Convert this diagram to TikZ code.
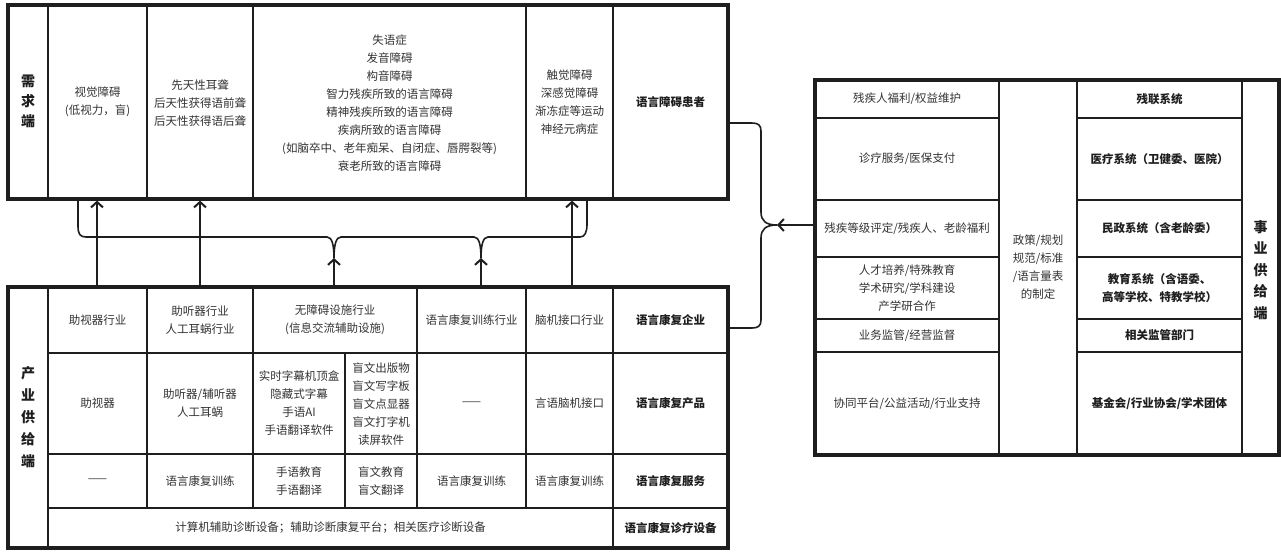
\documentclass[tikz,border=0pt]{standalone}
\usepackage{fontspec}
\setmainfont{Noto Sans CJK SC}
\usetikzlibrary{arrows.meta}
\definecolor{ink}{HTML}{1E1E1E}
\definecolor{txt}{HTML}{333333}
\begin{document}
\begin{tikzpicture}[x=1pt,y=-1pt,
  frame/.style={draw=ink, line width=3.2pt, rectangle, inner sep=0pt},
  gridline/.style={draw=ink, line width=1.8pt},
  t/.style={text=txt, font=\fontsize{11.5}{18}\selectfont, align=center, inner sep=0pt},
  h/.style={text=ink, font=\fontsize{11.5}{18.5}\selectfont\bfseries, align=center, inner sep=0pt},
  side/.style={text=ink, font=\fontsize{14}{22}\selectfont\bfseries, align=center, inner sep=0pt},
  arr/.style={draw=ink, line width=2pt, -{Straight Barb[length=5.5pt,width=12pt,line width=2pt]}},
  bus/.style={draw=ink, line width=1.6pt},
]
\useasboundingbox[fill=white] (0,0) rectangle (1281,552);

% ---------- grid lines ----------
% demand box
\foreach \x in {48,147,253,526,613} \draw[gridline] (\x,5) -- (\x,199);
% industry supply box
\draw[gridline] (48,287) -- (48,548);
\draw[gridline] (613,287) -- (613,548);
\foreach \x in {147,253,417,526} \draw[gridline] (\x,287) -- (\x,508);
\draw[gridline] (345,353) -- (345,508);
\foreach \y in {353,454,508} \draw[gridline] (48,\y) -- (728,\y);
% public supply box
\foreach \x in {999,1077,1242} \draw[gridline] (\x,80) -- (\x,455);
\foreach \y in {118,200,257,319,352} {
  \draw[gridline] (815,\y) -- (999,\y);
  \draw[gridline] (1077,\y) -- (1242,\y);
}

% ---------- frames ----------
\node[frame, minimum width=720pt, minimum height=194pt] (dem) at (368,102) {};
\node[frame, minimum width=720pt, minimum height=261pt] (sup) at (368,417.5) {};
\node[frame, minimum width=464pt, minimum height=375pt] (pub) at (1047,267.5) {};

% ---------- demand texts ----------
\node[side, font=\fontsize{14}{20}\selectfont\bfseries] (dlab) at (28,101) {需\\求\\端};
\node[t] (d1) at (97.5,102) {视觉障碍\\(低视力，盲)};
\node[t] (d2) at (200,103) {先天性耳聋\\后天性获得语前聋\\后天性获得语后聋};
\node[t] (d3) at (389.5,103) {失语症\\发音障碍\\构音障碍\\智力残疾所致的语言障碍\\精神残疾所致的语言障碍\\疾病所致的语言障碍\\(如脑卒中、老年痴呆、自闭症、唇腭裂等)\\衰老所致的语言障碍};
\node[t] (d4) at (569.5,102) {触觉障碍\\深感觉障碍\\渐冻症等运动\\神经元病症};
\node[h] (d5) at (670.5,102) {语言障碍患者};

% ---------- industry supply texts ----------
\node[side] (slab) at (28,417) {产\\业\\供\\给\\端};
\node[t] (s11) at (97.5,320) {助视器行业};
\node[t] (s12) at (200,320) {助听器行业\\人工耳蜗行业};
\node[t] (s13) at (335,320) {无障碍设施行业\\(信息交流辅助设施)};
\node[t] (s14) at (471.5,320) {语言康复训练行业};
\node[t] (s15) at (569.5,320) {脑机接口行业};
\node[h] (s16) at (670.5,320) {语言康复企业};

\node[t] (s21) at (97.5,403.5) {助视器};
\node[t] (s22) at (200,403.5) {助听器/辅听器\\人工耳蜗};
\node[t] (s23) at (299,403.5) {实时字幕机顶盒\\隐藏式字幕\\手语AI\\手语翻译软件};
\node[t] (s24) at (381,404.5) {盲文出版物\\盲文写字板\\盲文点显器\\盲文打字机\\读屏软件};
\node[t] (s25) at (471.5,403.5) {——};
\node[t] (s26) at (569.5,403.5) {言语脑机接口};
\node[h] (s27) at (670.5,403.5) {语言康复产品};

\node[t] (s31) at (97.5,481) {——};
\node[t] (s32) at (200,481) {语言康复训练};
\node[t] (s33) at (299,481) {手语教育\\手语翻译};
\node[t] (s34) at (381,481) {盲文教育\\盲文翻译};
\node[t] (s35) at (471.5,481) {语言康复训练};
\node[t] (s36) at (569.5,481) {语言康复训练};
\node[h] (s37) at (670.5,481) {语言康复服务};

\node[t] (s41) at (330.5,528) {计算机辅助诊断设备；辅助诊断康复平台；相关医疗诊断设备};
\node[h] (s42) at (670.5,528) {语言康复诊疗设备};

% ---------- public supply texts ----------
\node[t] (p11) at (907,99) {残疾人福利/权益维护};
\node[t] (p12) at (907,159) {诊疗服务/医保支付};
\node[t] (p13) at (907,228.5) {残疾等级评定/残疾人、老龄福利};
\node[t] (p14) at (907,288) {人才培养/特殊教育\\学术研究/学科建设\\产学研合作};
\node[t] (p15) at (907,335.5) {业务监管/经营监督};
\node[t] (p16) at (907,403.5) {协同平台/公益活动/行业支持};
\node[t] (p2) at (1038,267.5) {政策/规划\\规范/标准\\/语言量表\\的制定};
\node[h] (p31) at (1159.5,99) {残联系统};
\node[h] (p32) at (1159.5,159) {医疗系统（卫健委、医院）};
\node[h] (p33) at (1159.5,228.5) {民政系统（含老龄委）};
\node[h] (p34) at (1159.5,288) {教育系统（含语委、\\高等学校、特教学校）};
\node[h] (p35) at (1159.5,335.5) {相关监管部门};
\node[h] (p36) at (1159.5,403.5) {基金会/行业协会/学术团体};
\node[side, font=\fontsize{14}{21.5}\selectfont\bfseries] (plab) at (1260.5,270) {事\\业\\供\\给\\端};

% ---------- connectors ----------
\coordinate (a1) at (97,250);
\coordinate (a2) at (200,250);
\coordinate (a3) at (572,250);
\coordinate (j1) at (334,258);
\coordinate (j2) at (481,258);
\coordinate (bl) at (78,237);
\coordinate (br) at (587,237);
\coordinate (jt) at (761,123);
\coordinate (jb) at (761,328);
\coordinate (jr) at (777,225);

\draw[arr] (sup.north -| a1) -- (dem.south -| a1);
\draw[arr] (sup.north -| a2) -- (dem.south -| a2);
\draw[arr] (sup.north -| a3) -- (dem.south -| a3);
\draw[arr] (sup.north -| j1) -- (j1);
\draw[arr] (sup.north -| j2) -- (j2);

\draw[bus] (dem.south -| bl) -- (78,226) .. controls (78,234) and (80,237) .. (86,237)
  -- (327,237) .. controls (332,237) and (334,245) .. (j1);
\draw[bus] (j1) .. controls (334,245) and (336,237) .. (341,237)
  -- (474,237) .. controls (479,237) and (481,245) .. (j2);
\draw[bus] (j2) .. controls (481,245) and (483,237) .. (488,237)
  -- (580,237) .. controls (585,237) and (587,232) .. (587,224) -- (dem.south -| br);

\draw[bus] (dem.east |- jt) -- (752,123) .. controls (758,123) and (761,125) .. (761,131)
  -- (761,212) .. controls (761,221) and (766,225) .. (jr);
\draw[bus] (sup.east |- jb) -- (752,328) .. controls (758,328) and (761,326) .. (761,320)
  -- (761,238) .. controls (761,229) and (766,225) .. (jr);
\draw[arr] (pub.west |- jr) -- (jr);
\end{tikzpicture}
\end{document}
